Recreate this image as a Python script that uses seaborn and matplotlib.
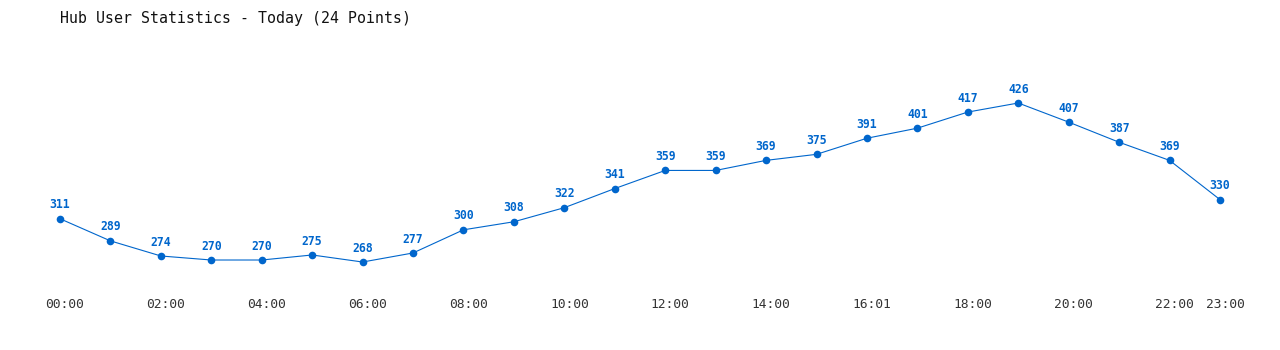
import matplotlib
matplotlib.use("Agg")
import matplotlib.pyplot as plt
import matplotlib.transforms as mtransforms
import seaborn as sns
import pandas as pd

hours = list(range(24))
users = [311, 289, 274, 270, 270, 275, 268, 277, 300, 308, 322, 341,
         359, 359, 369, 375, 391, 401, 417, 426, 407, 387, 369, 330]
tick_positions = [0, 2, 4, 6, 8, 10, 12, 14, 16, 18, 20, 22, 23]
tick_labels = ["00:00", "02:00", "04:00", "06:00", "08:00", "10:00", "12:00",
               "14:00", "16:01", "18:00", "20:00", "22:00", "23:00"]
title = "Hub User Statistics - Today (24 Points)"

sns.set_style("white")
plt.rcParams['font.family'] = ['DejaVu Sans Mono', 'DejaVu Sans']

blue = "#0066CC"
df = pd.DataFrame({"hour": hours, "users": users})

fig = plt.figure(figsize=(12.8, 3.5), dpi=100)
ax = fig.add_axes([60/1280, 60/350, 1160/1280, 250/350])
sns.lineplot(data=df, x="hour", y="users", ax=ax, color=blue, linewidth=0.8,
             marker="o", markersize=5.5, markeredgewidth=0, markerfacecolor=blue,
             clip_on=False)

for h, u in zip(hours, users):
    ax.annotate(str(u), (h, u), xytext=(0, 10), textcoords="offset points",
                ha="center", va="center", fontsize=8.3, fontweight="bold", color=blue)

ax.set_xlim(0, 23)
ax.set_ylim(240.2, 488.6)
ax.set_xticks(tick_positions)
ax.set_xticklabels(tick_labels, fontsize=9.3, color="#333333")
ax.set_yticks([])
ax.tick_params(axis="x", length=0, pad=5.5)
shift = mtransforms.ScaledTranslation(5/100, 0, fig.dpi_scale_trans)
for lbl in ax.get_xticklabels():
    lbl.set_transform(lbl.get_transform() + shift)
ax.set_xlabel("")
ax.set_ylabel("")
for s in ax.spines.values():
    s.set_visible(False)
ax.patch.set_alpha(0)

fig.text(60/1280, 1 - 18/350, title, fontsize=10.7, color="#111111",
         ha="left", va="center")

fig.savefig("out.png", dpi=100, facecolor="white")
